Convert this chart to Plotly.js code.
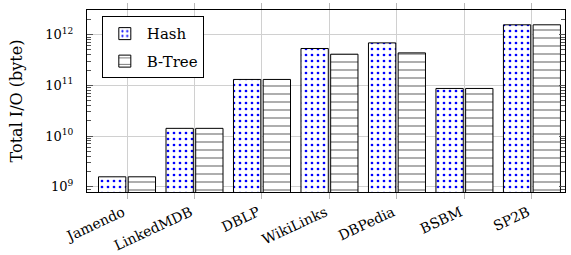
<!DOCTYPE html>
<html>
<head>
<meta charset="utf-8">
<script src="https://cdn.plot.ly/plotly-3.0.1.min.js"></script>
<style>html,body{margin:0;padding:0;background:#fff;}#chart{width:571px;height:255px;}</style>
</head>
<body>
<div id="chart"></div>
<script>
const categories = ["Jamendo", "LinkedMDB", "DBLP", "WikiLinks", "DBPedia", "BSBM", "SP2B"];
const hashValues = [1.57e9, 1.42e10, 1.31e11, 5.35e11, 6.9e11, 8.7e10, 1.57e12];
const btreeValues = [1.57e9, 1.42e10, 1.31e11, 4.13e11, 4.38e11, 8.7e10, 1.57e12];
const yTickVals = [1e9, 1e10, 1e11, 1e12];
const yTickText = ["10<sup>9</sup>", "10<sup>10</sup>", "10<sup>11</sup>", "10<sup>12</sup>"];
const minorVals = [];
for (let e = 8; e <= 12; e++) for (let m = 2; m <= 9; m++) minorVals.push(m * Math.pow(10, e));

const serif = "'DejaVu Serif', 'Liberation Serif', serif";
const traces = [
  {
    type: "bar", name: "Hash", x: categories, y: hashValues, legendgroup: "a",
    marker: {
      color: "#ffffff",
      line: {color: "#000000", width: 1},
      pattern: {shape: ".", fgcolor: "#0000ff", bgcolor: "#ffffff", size: 6, solidity: 0.16, fillmode: "replace"}
    }
  },
  {
    type: "bar", name: "B-Tree", x: categories, y: btreeValues, legendgroup: "b",
    marker: {
      color: "#ffffff",
      line: {color: "#000000", width: 1},
      pattern: {shape: "-", fgcolor: "#555555", bgcolor: "#ffffff", size: 8, solidity: 0.12, fillmode: "replace"}
    }
  }
];

const layout = {
  width: 571, height: 255,
  margin: {l: 87, r: 6, t: 9.5, b: 63, pad: 0},
  paper_bgcolor: "#ffffff", plot_bgcolor: "#ffffff",
  font: {family: serif, color: "#000000", size: 13},
  barmode: "group", bargap: 0.12, bargroupgap: 0.08,
  showlegend: true,
  legend: {
    x: 0.031, y: 0.965, xanchor: "left", yanchor: "top",
    bordercolor: "#000000", borderwidth: 1, bgcolor: "#ffffff",
    font: {family: serif, size: 15}, itemwidth: 34, tracegroupgap: 5
  },
  xaxis: {
    type: "category", range: [-0.593, 6.49],
    tickangle: -25, tickfont: {family: serif, size: 14},
    ticklabelshift: -4,
    showgrid: true, gridcolor: "#d0d0d0", gridwidth: 1,
    ticks: "outside", ticklen: 6, tickcolor: "#b8b8b8", tickwidth: 1,
    showline: true, linecolor: "#000000", linewidth: 1, mirror: "allticks",
    zeroline: false
  },
  yaxis: {
    type: "log", range: [8.896, 12.488],
    tickmode: "array", tickvals: yTickVals, ticktext: yTickText,
    tickfont: {family: serif, size: 13},
    showgrid: true, gridcolor: "#d0d0d0", gridwidth: 1,
    ticks: "inside", ticklen: 6, tickcolor: "#555555", tickwidth: 1,
    ticklabelstandoff: 10,
    minor: {tickmode: "array", tickvals: minorVals, ticks: "inside", ticklen: 4, tickcolor: "#555555", showgrid: false},
    showline: true, linecolor: "#000000", linewidth: 1, mirror: "allticks",
    zeroline: false,
    title: {text: "Total I/O (byte)", font: {family: serif, size: 16}, standoff: 18}
  }
};

Plotly.newPlot("chart", traces, layout, {displayModeBar: false, staticPlot: true});
</script>
</body>
</html>
